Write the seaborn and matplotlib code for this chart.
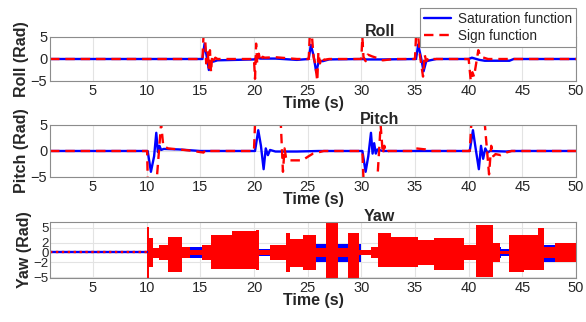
import numpy as np
import pandas as pd
import matplotlib
matplotlib.use("Agg")
import matplotlib.pyplot as plt
import seaborn as sns

sns.set_theme(style="whitegrid")
plt.rcParams['font.family'] = ['Liberation Sans', 'DejaVu Sans']

# ---- Roll (rad) ----
roll_sat_t = [1, 15.2, 15.4, 15.6, 15.8, 16.0, 16.2, 16.6, 20.0, 20.3, 20.6, 22.0, 24.0,
              25.1, 25.3, 25.55, 25.8, 26.05, 26.4, 27.0, 30.0, 30.5, 32.0,
              35.1, 35.3, 35.55, 35.8, 36.05, 36.4, 37.0, 40.0, 40.3, 41.0, 41.5, 43.8, 44.2, 50]
roll_sat_v = [0, 0, 3.5, 0.5, -2.5, -0.5, -0.6, -0.3, -0.1, 0.3, 0.1, 0.1, -0.2,
              0, 3.2, 0.8, -3.0, -0.4, -0.5, -0.1, 0, -0.1, -0.1,
              0, 3.3, 0.5, -2.8, -0.5, -0.3, 0, 0, 0.3, -0.2, -0.4, -0.4, 0, 0]
roll_sgn_t = [1, 15.2, 15.3, 15.45, 15.55, 15.7, 15.8, 15.9, 16.0, 16.1, 16.2, 16.4, 16.6,
              20.0, 20.1, 20.2, 20.3, 20.45, 20.6, 20.8, 21.0, 22.0, 23.0, 24.0,
              25.1, 25.2, 25.4, 25.55, 25.7, 25.9, 26.0, 26.15, 26.3, 26.5, 27.0,
              30.0, 30.1, 30.2, 30.4, 30.6, 31.0, 31.5, 32.0, 33.0,
              35.0, 35.1, 35.3, 35.45, 35.6, 35.75, 35.9, 36.05, 36.3, 36.6,
              40.0, 40.2, 40.35, 40.5, 40.7, 40.9, 41.1, 41.4, 41.8, 50]
roll_sgn_v = [0, 0, 5.3, 5.3, -1, 1.5, -2, 2, -3, 0.5, -0.5, 0.3, 0,
              0, -4.5, 3.5, -1, 1.2, -0.5, 0.5, 0.3, 0.4, 0.2, 0,
              0, 5.3, 5.3, 0.5, -1, -5, 1.5, -1, 0.5, -0.2, 0,
              0, 5, 0.5, -0.5, 1, 0.6, 0.2, -0.3, 0,
              0, 5.3, 5.3, 1, -1.5, -4, 1, -0.5, 0.3, 0,
              0, -5, -3, -4, -1, 2, 0.5, 0.3, 0, 0]

# ---- Pitch (rad) ----
pitch_sat_t = [1, 10.1, 10.4, 10.7, 10.9, 11.05, 11.2, 11.35, 11.6, 13.0, 15.0,
               20.1, 20.4, 20.65, 20.9, 21.1, 21.3, 21.5, 22.0, 24.0, 26.0,
               30.1, 30.4, 30.65, 30.9, 31.05, 31.2, 31.35, 31.5, 32.0,
               40.1, 40.4, 40.65, 40.95, 41.15, 41.35, 41.55, 41.75, 42.0, 43.5, 44.0, 50]
pitch_sat_v = [0, 0, -4, -1, 3.5, -0.2, 1, 0.2, 0.4, 0.3, 0,
               0, 4, 1, -3.5, 0.5, -0.8, 0.2, -0.1, -0.1, 0,
               0, -4, -1, 3.5, -0.5, 1.5, -0.5, 0.3, 0,
               0, 4, 0.5, -3.5, 1, -1.5, 0.5, -0.3, 0, -0.1, 0, 0]
pitch_sgn_t = [1, 10.05, 10.1, 10.95, 11.35, 11.55, 11.7, 12.0, 14.0, 15.3, 15.5, 16.0,
               20.0, 20.1, 22.5, 22.7, 22.85, 23.0, 23.2, 24.5, 25.1, 25.5, 26.5,
               30.1, 30.2, 31.5, 31.8, 32.0, 32.15, 32.3, 32.5,
               35.0, 35.1, 36.0, 36.5,
               40.1, 40.25, 41.5, 41.9, 42.1, 42.3, 42.5, 43.0, 43.5, 44.0, 50]
pitch_sgn_v = [0, 0, -5.3, -5.3, 5.3, 1, 0.8, 0.5, 0.1, -0.3, 0.2, 0,
               0, 5.3, 5.3, -4, 0.5, -1.5, -1.8, -1.8, -1, -0.5, 0,
               0, -5.3, -5.3, 5, -0.5, 1, -0.3, 0,
               0, 0.5, 0.3, 0,
               0, 5.3, 5.3, -4.5, 1, -1, -0.6, -0.8, -0.3, 0, 0]

# ---- Yaw (rad): chattering envelopes, piecewise constant from each start time ----
yaw_sgn_t = [10.0, 10.2, 10.6, 11.2, 12.0, 13.3, 14.0, 15.2, 16.0, 18.0, 20.2, 20.5, 21.5,
             23.0, 23.4, 24.6, 25.8, 26.7, 27.8, 28.8, 29.8, 30.9, 31.6, 32.8, 35.3,
             36.8, 39.6, 40.7, 42.3, 42.9, 43.8, 45.2, 46.5, 47.0, 48.0, 50.0]
yaw_sgn_hi = [5.2, 3, 1, 1.5, 3.1, 1.2, 0.5, 1.5, 3.5, 4.3, 4.5, 0.5, 1.5,
              4, 2.8, 3.5, 1, 6.2, 1, 3.9, 0.5, 1.2, 4, 3.2, 2.5,
              3, 1.5, 5.5, 2, 0.3, 3.5, 3.5, 5, 1.2, 2, 2]
yaw_sgn_lo = [-5.2, -3, -1.2, -1.5, -4, -1.2, -0.5, -1.5, -3.3, -3.3, -3.5, -0.5, -1.5,
              -4, -3, -3.5, -1, -5.2, -1, -5.2, -0.5, -1.2, -3, -3, -2.5,
              -3.5, -1.5, -5, -2, -0.3, -4, -3.5, -3.5, -1.2, -2, -2]
yaw_sat_t = [10.0, 14.0, 15.5, 20.5, 21.5, 25.0, 30.0, 31.0, 43.0, 44.0, 47.0, 50.0]
yaw_sat_hi = [1, 1.1, 1.5, 0.8, 1.5, 1.8, 0.5, 1.2, 0.8, 1.5, 1.5, 1.5]
yaw_sat_lo = [-1, -1.1, -1.5, -0.8, -1.5, -2.0, -0.5, -1.2, -0.8, -1.5, -2.0, -2.0]
yaw_rest_t = [1, 10.0]
yaw_rest_v = [0, 0]

xticks = [5, 10, 15, 20, 25, 30, 35, 40, 45, 50]
blue = "#0000ff"
red = "#ff0000"

W, H = 586, 322
fig = plt.figure(figsize=(W / 100, H / 100), dpi=100)


def box(left, top, right, bottom):
    return [left / W, 1 - bottom / H, (right - left) / W, (bottom - top) / H]


ax1 = fig.add_axes(box(50, 37, 576, 81))
ax2 = fig.add_axes(box(50, 125, 576, 177))
ax3 = fig.add_axes(box(50, 222, 576, 278))

sns.lineplot(x=roll_sat_t, y=roll_sat_v, ax=ax1, color=blue, linewidth=1.7,
             estimator=None, sort=False, label="Saturation function")
sns.lineplot(x=roll_sgn_t, y=roll_sgn_v, ax=ax1, color=red, linewidth=1.7,
             estimator=None, sort=False, label="Sign function", linestyle=(0, (4, 2.5)))
sns.lineplot(x=pitch_sat_t, y=pitch_sat_v, ax=ax2, color=blue, linewidth=1.7,
             estimator=None, sort=False)
sns.lineplot(x=pitch_sgn_t, y=pitch_sgn_v, ax=ax2, color=red, linewidth=1.7,
             estimator=None, sort=False, linestyle=(0, (4, 2.5)))

# yaw
ax3.fill_between(yaw_sat_t, yaw_sat_lo, yaw_sat_hi, step="post", color=blue, linewidth=0)
ax3.fill_between(yaw_sgn_t, yaw_sgn_lo, yaw_sgn_hi, step="post", color=red, linewidth=0)
sns.lineplot(x=yaw_rest_t, y=yaw_rest_v, ax=ax3, color=blue, linewidth=1.7, estimator=None)
sns.lineplot(x=yaw_rest_t, y=yaw_rest_v, ax=ax3, color=red, linewidth=1.7, estimator=None,
             linestyle=(0, (1, 1.5)))

specs = [
    (ax1, "Roll (Rad)", "Roll", [-5, 0, 5], (-5, 5)),
    (ax2, "Pitch (Rad)", "Pitch", [-5, 0, 5], (-5, 5)),
    (ax3, "Yaw (Rad)", "Yaw", [-5, -2, 0, 2, 5], (-5.2, 6.2)),
]
for ax, ylab, title, yt, ylim in specs:
    ax.set_xlim(1, 50)
    ax.set_ylim(*ylim)
    ax.set_xticks(xticks)
    ax.set_yticks(yt)
    ax.set_facecolor("white")
    ax.grid(True, color="#e3e3e3", linewidth=0.8)
    for s in ax.spines.values():
        s.set_color("#8c8c8c")
        s.set_linewidth(0.8)
    ax.tick_params(axis="both", labelsize=10.5, colors="#262626", length=0, pad=2)
    ax.set_ylabel(ylab, fontsize=11.5, fontweight="bold", labelpad=1)
    ax.set_xlabel("Time (s)", fontsize=11.5, fontweight="bold", labelpad=-1)
    ax.set_title(title, fontsize=11.5, fontweight="bold", x=0.627, pad=1)

# crowded yaw ticks, as in the original
ax3.tick_params(axis="y", labelsize=9.5, pad=1)

leg = ax1.legend(loc="upper right", bbox_to_anchor=(576 / W, 1 - 8 / H),
                 bbox_transform=fig.transFigure, fontsize=9.8, frameon=True,
                 fancybox=False, framealpha=1, edgecolor="#8c8c8c",
                 handlelength=2.0, handletextpad=0.5, borderpad=0.3,
                 labelspacing=0.2, borderaxespad=0)
leg.get_frame().set_linewidth(0.8)

fig.savefig("out.png", dpi=100)
